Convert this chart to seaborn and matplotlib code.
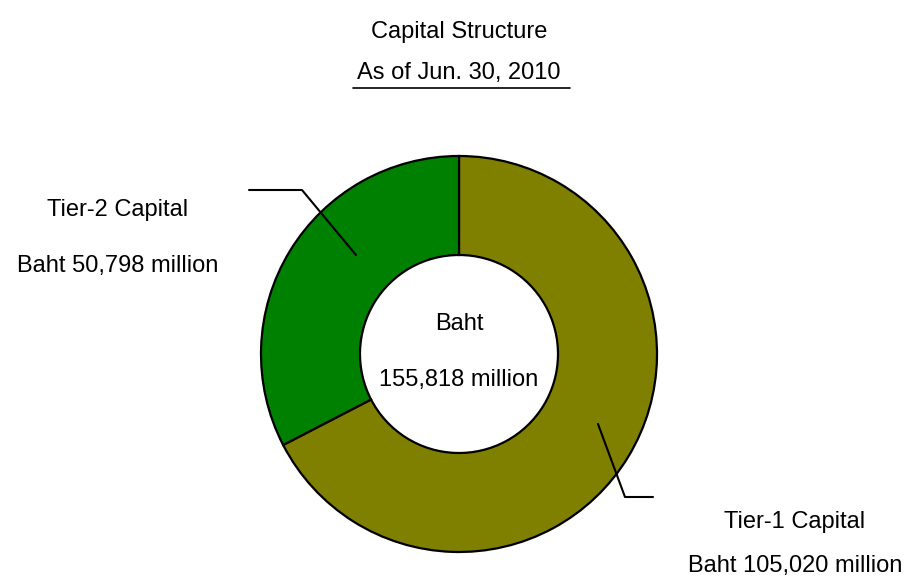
import matplotlib
matplotlib.use("Agg")
import matplotlib.pyplot as plt
import seaborn as sns

# Capital structure components (Baht million)
components = ["Tier-1 Capital", "Tier-2 Capital"]
amounts = [105020, 50798]
total = 155818
colors = ["#808000", "#008000"]

title = "Capital Structure"
subtitle = "As of Jun. 30, 2010"

sns.set_theme(style="white")
plt.rcParams["font.family"] = ["Liberation Sans", "DejaVu Sans"]
plt.rcParams["text.color"] = "black"

W, H = 911, 584
fig = plt.figure(figsize=(W / 100, H / 100), dpi=100)
ax = fig.add_axes([0, 0, 1, 1])

cx, cy = 459, H - 354
R = 198
ax.pie(amounts, colors=colors, startangle=90, counterclock=False,
       center=(cx, cy), radius=R, frame=True,
       wedgeprops=dict(width=R * 0.5, edgecolor="black", linewidth=1.6))
ax.set_xlim(0, W)
ax.set_ylim(0, H)
ax.set_aspect("equal")
ax.axis("off")

fs = 17
ax.text(cx, H - 32, title, ha="center", va="center", fontsize=fs)
ax.text(cx, H - 73, subtitle, ha="center", va="center", fontsize=fs)
ax.plot([353, 570], [H - 88, H - 88], color="black", lw=1.2)

ax.text(cx, H - 324, "Baht", ha="center", va="center", fontsize=fs)
ax.text(cx, H - 380, f"{total:,} million", ha="center", va="center", fontsize=fs)

# Tier-2 label and leader
ax.text(118, H - 210, components[1], ha="center", va="center", fontsize=fs)
ax.text(118, H - 266, f"Baht {amounts[1]:,} million", ha="center", va="center", fontsize=fs)
ax.plot([249, 302, 356], [H - 190, H - 190, H - 255], color="black", lw=1.5)

# Tier-1 label and leader
ax.text(795, H - 522, components[0], ha="center", va="center", fontsize=fs)
ax.text(795, H - 566, f"Baht {amounts[0]:,} million", ha="center", va="center", fontsize=fs)
ax.plot([598, 625, 653], [H - 424, H - 497, H - 497], color="black", lw=1.5)

fig.savefig("out.png", dpi=100, facecolor="white")
